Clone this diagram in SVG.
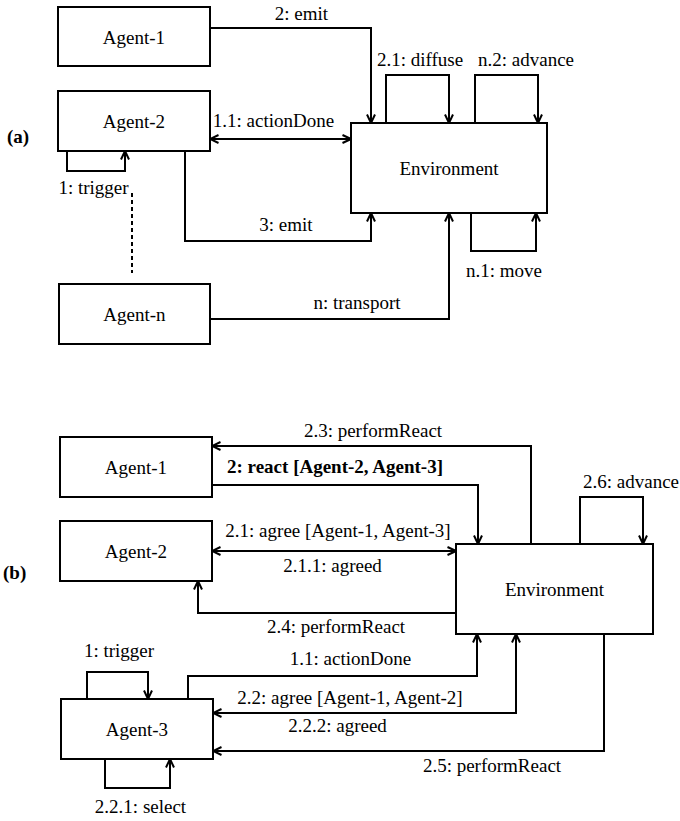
<svg xmlns="http://www.w3.org/2000/svg" width="680" height="821" viewBox="0 0 680 821">
<style>
text{font-family:'Liberation Serif','DejaVu Serif','Times New Roman',serif;font-size:19px;fill:#000}
.box{fill:#fff;stroke:#000;stroke-width:2}
.c{text-anchor:middle}
.b{font-weight:bold}
.ln{fill:none;stroke:#000;stroke-width:2}
.ar{marker-end:url(#ah)}
.ar2{marker-start:url(#ah);marker-end:url(#ah)}
.dash{stroke-dasharray:4 3}
</style>
<defs>
<marker id="ah" viewBox="0 0 10 10" refX="9.5" refY="5" markerWidth="10" markerHeight="10" markerUnits="userSpaceOnUse" orient="auto-start-reverse">
<path d="M1,1 L9.5,5 L1,9" fill="none" stroke="#000" stroke-width="2"/>
</marker>
</defs>
<rect width="680" height="821" fill="#fff"/>
<text class="b" x="7" y="143">(a)</text>
<text class="b" x="3" y="579">(b)</text>
<g id="connectors">
<path class="ln ar" d="M210,28 H371 V123"/>
<path class="ln ar2" d="M210,139 H351"/>
<path class="ln ar" d="M386,123 V75 H449 V123"/>
<path class="ln ar" d="M475,123 V75 H538 V123"/>
<path class="ln ar" d="M67,151 V171 H125 V151"/>
<path class="ln dash" d="M132,193 V273"/>
<path class="ln ar" d="M185,151 V241 H371 V213"/>
<path class="ln ar" d="M471,213 V251 H536 V213"/>
<path class="ln ar" d="M210,319 H449 V213"/>
<path class="ln ar" d="M531,544 V446 H212"/>
<path class="ln ar" d="M212,485 H478 V544"/>
<path class="ln ar" d="M580,544 V497 H643 V544"/>
<path class="ln ar2" d="M212,551 H456"/>
<path class="ln ar" d="M456,613 H198 V581"/>
<path class="ln ar" d="M87,699 V672 H148 V699"/>
<path class="ln ar" d="M188,699 V676 H477 V634"/>
<path class="ln ar2" d="M213,713 H516 V634"/>
<path class="ln ar" d="M604,634 V751 H213"/>
<path class="ln ar" d="M105,759 V788 H170 V759"/>
<text class="c" x="301.5" y="20">2: emit</text>
<text class="c" x="273.5" y="127">1.1: actionDone</text>
<text class="c" x="420" y="66">2.1: diffuse</text>
<text class="c" x="526" y="66">n.2: advance</text>
<text class="c" x="93.5" y="194">1: trigger</text>
<text class="c" x="286" y="231">3: emit</text>
<text class="c" x="504" y="277">n.1: move</text>
<text class="c" x="357" y="309">n: transport</text>
<text class="c" x="373" y="437">2.3: performReact</text>
<text class="c b" x="335" y="473">2: react [Agent-2, Agent-3]</text>
<text class="c" x="631" y="488">2.6: advance</text>
<text class="c" x="338" y="537">2.1: agree [Agent-1, Agent-3]</text>
<text class="c" x="332.5" y="572">2.1.1: agreed</text>
<text class="c" x="336" y="633">2.4: performReact</text>
<text class="c" x="119" y="657">1: trigger</text>
<text class="c" x="350.5" y="665">1.1: actionDone</text>
<text class="c" x="350" y="704">2.2: agree [Agent-1, Agent-2]</text>
<text class="c" x="337.5" y="732">2.2.2: agreed</text>
<text class="c" x="492" y="772">2.5: performReact</text>
<text class="c" x="140.5" y="813">2.2.1: select</text>
</g>
<g id="a-agent1"><rect class="box" x="58" y="7" width="152" height="59"/><text class="c" x="134" y="43.5">Agent-1</text></g>
<g id="a-agent2"><rect class="box" x="58" y="91" width="152" height="60"/><text class="c" x="134" y="128">Agent-2</text></g>
<g id="a-agentn"><rect class="box" x="59" y="284" width="151" height="60"/><text class="c" x="134.5" y="321">Agent-n</text></g>
<g id="a-env"><rect class="box" x="351" y="123" width="196" height="90"/><text class="c" x="449" y="175">Environment</text></g>
<g id="b-agent1"><rect class="box" x="60" y="437" width="152" height="60"/><text class="c" x="136" y="474">Agent-1</text></g>
<g id="b-agent2"><rect class="box" x="60" y="521" width="152" height="60"/><text class="c" x="136" y="558">Agent-2</text></g>
<g id="b-agent3"><rect class="box" x="61" y="699" width="152" height="60"/><text class="c" x="137" y="736">Agent-3</text></g>
<g id="b-env"><rect class="box" x="456" y="544" width="197" height="90"/><text class="c" x="554.5" y="596">Environment</text></g>
</svg>
